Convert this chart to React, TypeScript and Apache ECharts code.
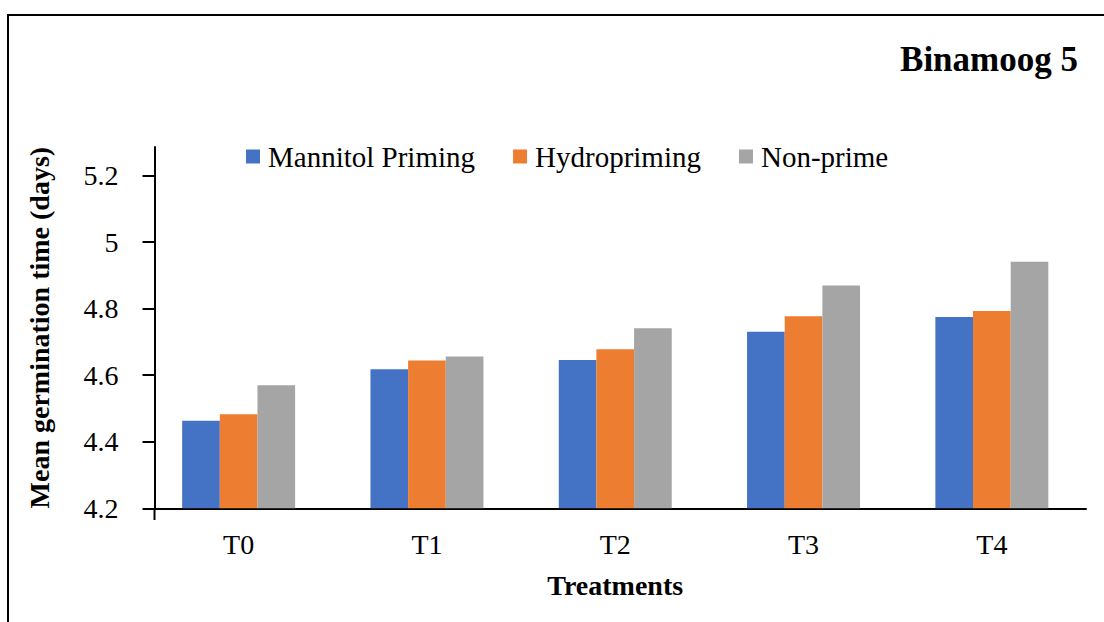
import React, { useEffect, useRef } from "react";
import * as echarts from "echarts";

const categories = ["T0", "T1", "T2", "T3", "T4"];
const mannitol = [4.463, 4.618, 4.646, 4.731, 4.775];
const hydro = [4.483, 4.644, 4.678, 4.777, 4.793];
const nonPrime = [4.570, 4.656, 4.741, 4.870, 4.941];
const yTicks = [4.2, 4.4, 4.6, 4.8, 5.0, 5.2];
const seriesNames = ["Mannitol Priming", "Hydropriming", "Non-prime"];
const colors = ["#4472C4", "#ED7D31", "#A5A5A5"];

const FONT = "'Liberation Serif', 'Times New Roman', serif";

export default function App() {
  const ref = useRef<HTMLDivElement>(null);
  useEffect(() => {
    if (!ref.current) return;
    const chart = echarts.init(ref.current, null, { renderer: "svg" });
    const data = [mannitol, hydro, nonPrime];
    chart.setOption({
      animation: false,
      backgroundColor: "#ffffff",
      textStyle: { fontFamily: FONT, color: "#000" },
      legend: {
        left: 241,
        top: 137,
        itemWidth: 14,
        itemHeight: 14,
        itemGap: 38,
        icon: "rect",
        data: seriesNames,
        textStyle: {
          fontFamily: FONT,
          fontSize: 29,
          lineHeight: 28,
          color: "#000",
          padding: [0, 0, 0, 3],
        },
      },
      grid: { left: 144.5, right: 18, top: 147, bottom: 113.7, containLabel: false },
      xAxis: {
        type: "category",
        data: categories,
        name: "Treatments",
        nameLocation: "middle",
        nameGap: 63,
        nameTextStyle: { fontFamily: FONT, fontSize: 28, lineHeight: 28, fontWeight: "bold", color: "#000" },
        axisLine: { lineStyle: { color: "#000", width: 2 } },
        axisTick: { show: false },
        axisLabel: { fontFamily: FONT, fontSize: 28, lineHeight: 28, color: "#000", margin: 22 },
      },
      yAxis: {
        type: "value",
        min: 4.2,
        max: 5.286,
        interval: 0.2,
        offset: -10,
        name: "Mean germination time (days)",
        nameLocation: "middle",
        nameGap: 101,
        nameTextStyle: { fontFamily: FONT, fontSize: 28, lineHeight: 28, fontWeight: "bold", color: "#000" },
        splitLine: { show: false },
        axisLine: { show: true, lineStyle: { color: "#000", width: 2 } },
        axisTick: { show: true, length: 12, customValues: yTicks, lineStyle: { color: "#000", width: 2 } },
        axisLabel: {
          fontFamily: FONT,
          fontSize: 28,
          color: "#000",
          margin: 36,
          customValues: yTicks,
          formatter: (v: number) => String(Math.round(v * 10) / 10),
        },
      },
      series: seriesNames.map((name, i) => ({
        name,
        type: "bar",
        data: data[i],
        barGap: "0%",
        barCategoryGap: "40%",
        itemStyle: { color: colors[i] },
      })),
      graphic: [
        {
          type: "rect",
          shape: { x: 8, y: 15, width: 1300, height: 800 },
          style: { fill: "none", stroke: "#000", lineWidth: 2 },
          silent: true,
        },
        {
          type: "line",
          shape: { x1: 154.5, y1: 508, x2: 154.5, y2: 520 },
          style: { stroke: "#000", lineWidth: 2 },
          silent: true,
        },
        {
          type: "text",
          x: 1078,
          y: 59,
          style: {
            text: "Binamoog 5",
            fontFamily: FONT,
            fontSize: 35,
            fontWeight: "bold",
            fill: "#000",
            align: "right",
            verticalAlign: "middle",
          },
        },
      ],
    });
    return () => chart.dispose();
  }, []);
  return (
    <div
      ref={ref}
      style={{ position: "fixed", left: 0, top: 0, width: 1104, height: 622, background: "#fff" }}
    />
  );
}
